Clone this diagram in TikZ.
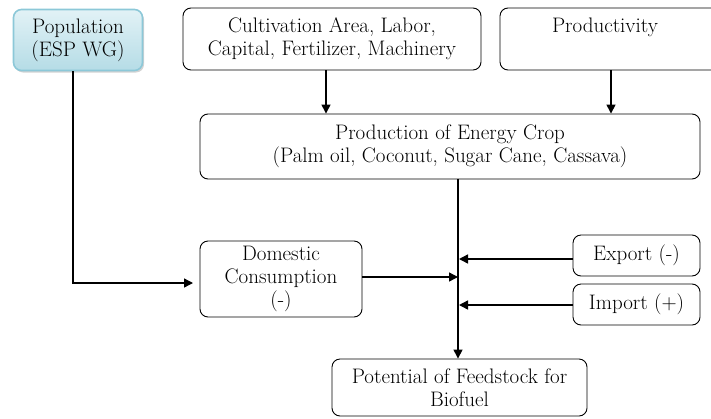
\documentclass[tikz,border=0pt]{standalone}
\usetikzlibrary{arrows.meta,shadows}
\definecolor{popfillA}{HTML}{E2F2F6}
\definecolor{popfillB}{HTML}{B5DCE6}
\definecolor{popborder}{HTML}{8CC8D8}
\begin{document}
\begin{tikzpicture}[x=1pt,y=-1pt,
  every node/.style={font=\fontsize{21}{23}\selectfont},
  box/.style={draw=black,line width=0.9pt,rounded corners=8pt,align=center,inner sep=0pt},
  popbox/.style={box,draw=popborder,line width=1.6pt,top color=popfillA,bottom color=popfillB,
    drop shadow={shadow xshift=1.5pt,shadow yshift=-2pt,opacity=0.35,fill=gray}},
  conn/.style={line width=1.4pt},
  arr/.style={conn,-{Triangle[length=9pt,width=9pt]}}]
\useasboundingbox (0,0) rectangle (711,418);
\begin{scope}
\clip (0,0) rectangle (711,418);
\node[popbox,minimum width=129pt,minimum height=61pt] (pop) at (78,40) {Population\\(ESP WG)};
\node[box,minimum width=298pt,minimum height=62pt] (cult) at (332,39) {Cultivation Area, Labor,\\Capital, Fertilizer, Machinery};
\node[box,minimum width=220pt,minimum height=62pt] (prodv) at (610,39) {\phantom{Pp}};
\node (prodvtext) at (605,27) {Productivity};
\node[box,minimum width=500pt,minimum height=65pt] (prod) at (450,146.5) {Production of Energy Crop\\(Palm oil, Coconut, Sugar Cane, Cassava)};
\node[box,minimum width=162pt,minimum height=76pt] (dom) at (281,279) {Domestic\\Consumption\\(-)};
\node[box,minimum width=127pt,minimum height=41pt] (exp) at (636.5,255.5) {Export (-)};
\node[box,minimum width=127pt,minimum height=41pt] (imp) at (636.5,304.5) {Import (+)};
\node[box,minimum width=255pt,minimum height=57pt] (pot) at (459.5,387.5) {Potential of Feedstock for\\Biofuel};
\end{scope}
\coordinate (spine) at (458,0);
\coordinate (jdom) at (458,277);
\coordinate (jexp) at (459,259);
\coordinate (jimp) at (459,305);
\coordinate (popend) at (193,283);
\draw[arr] (cult.south -| 326,0) -- (prod.north -| 326,0);
\draw[arr] (prodv.south -| 611,0) -- (prod.north -| 611,0);
\draw[arr] (prod.south -| spine) -- (pot.north -| spine);
\draw[arr] (pop.south -| 73,0) |- (popend);
\draw[arr] (dom.east |- jdom) -- (jdom);
\draw[arr] (exp.west |- jexp) -- (jexp);
\draw[arr] (imp.west |- jimp) -- (jimp);
\end{tikzpicture}
\end{document}
